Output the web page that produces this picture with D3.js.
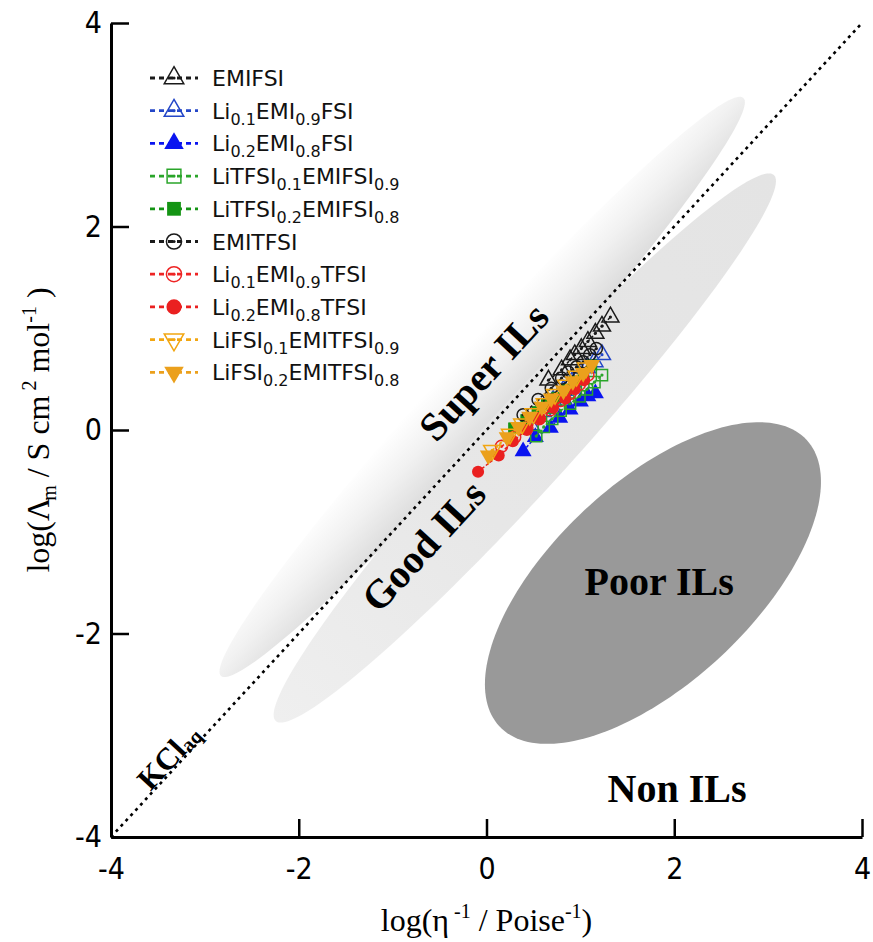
<!DOCTYPE html>
<html>
<head>
<meta charset="utf-8">
<script src="https://cdn.jsdelivr.net/npm/d3@7"></script>
<style>
body { margin: 0; background: #fff; }
</style>
</head>
<body>
<svg id="chart"></svg>
<script>
const width = 873;
const height = 942;

const pl = 111;
const pr = 11;
const pt = 23;
const pb = 105;

const xTicks = [-4, -2, 0, 2, 4];
const yTicks = [-4, -2, 0, 2, 4];

const seriesNames = [
    "EMIFSI",
    "Li_{0.1}EMI_{0.9}FSI",
    "Li_{0.2}EMI_{0.8}FSI",
    "LiTFSI_{0.1}EMIFSI_{0.9}",
    "LiTFSI_{0.2}EMIFSI_{0.8}",
    "EMITFSI",
    "Li_{0.1}EMI_{0.9}TFSI",
    "Li_{0.2}EMI_{0.8}TFSI",
    "LiFSI_{0.1}EMITFSI_{0.9}",
    "LiFSI_{0.2}EMITFSI_{0.8}",
];

// [log(1/eta), log(Lambda_m)]
const emiFsi = [[0.66, 0.49], [0.80, 0.59], [0.89, 0.69], [0.94, 0.74], [1.01, 0.80], [1.08, 0.87], [1.16, 0.95], [1.23, 1.02], [1.32, 1.11]];
const li1EmiFsi = [[0.47, 0.05], [0.60, 0.18], [0.71, 0.29], [0.82, 0.39], [0.91, 0.47], [0.99, 0.54], [1.07, 0.61], [1.15, 0.67], [1.23, 0.74]];
const li2EmiFsi = [[0.39, -0.21], [0.52, -0.07], [0.68, 0.02], [0.78, 0.12], [0.89, 0.20], [1.00, 0.28], [1.08, 0.33], [1.16, 0.36]];
const litfsi1EmiFsi = [[0.53, -0.06], [0.61, 0.03], [0.70, 0.11], [0.79, 0.19], [0.89, 0.26], [0.99, 0.33], [1.07, 0.40], [1.15, 0.47], [1.23, 0.54]];
const litfsi2EmiFsi = [[0.29, 0.02], [0.42, 0.10], [0.54, 0.18], [0.64, 0.25], [0.75, 0.32], [0.85, 0.40], [0.94, 0.48], [1.03, 0.56], [1.12, 0.64]];
const emiTfsi = [[0.39, 0.15], [0.55, 0.30], [0.69, 0.41], [0.80, 0.51], [0.87, 0.57], [0.96, 0.62], [1.03, 0.67], [1.10, 0.74], [1.17, 0.80]];
const li1EmiTfsi = [[0.16, -0.16], [0.30, -0.07], [0.43, 0.02], [0.56, 0.11], [0.68, 0.20], [0.79, 0.29], [0.89, 0.36], [0.99, 0.45], [1.08, 0.54]];
const li2EmiTfsi = [[-0.09, -0.41], [0.13, -0.25], [0.28, -0.11], [0.43, 0.00], [0.57, 0.11], [0.71, 0.22], [0.84, 0.31], [0.94, 0.40], [1.04, 0.49]];
const lifsi1EmiTfsi = [[0.06, -0.20], [0.25, -0.04], [0.38, 0.06], [0.50, 0.16], [0.62, 0.26], [0.73, 0.35], [0.85, 0.44], [0.96, 0.53], [1.06, 0.61]];
const lifsi2EmiTfsi = [[0.02, -0.25], [0.22, -0.07], [0.34, 0.03], [0.46, 0.13], [0.59, 0.23], [0.69, 0.31], [0.82, 0.39], [0.92, 0.48], [1.03, 0.56], [1.12, 0.64]];

const seriesData = [emiFsi, li1EmiFsi, li2EmiFsi, litfsi1EmiFsi, litfsi2EmiFsi,
    emiTfsi, li1EmiTfsi, li2EmiTfsi, lifsi1EmiTfsi, lifsi2EmiTfsi];

// shaded zones: centre + two half-axis vectors, in data units
const zoneSuper = {cx: -0.046, cy: 0.423, ux: 2.782, uy: 2.841, vx: -0.300, vy: 0.250};
const zoneGood = {cx: 0.408, cy: -0.177, ux: 2.653, uy: 2.683, vx: -0.346, vy: 0.292};
const zonePoor = {cx: 1.773, cy: -1.504, ux: 1.636, uy: 1.408, vx: -0.726, vy: 0.719};

const styles = [
    {color: "#1a1a1a", shape: "up", filled: false},
    {color: "#2447c8", shape: "up", filled: false},
    {color: "#0a14f0", shape: "up", filled: true},
    {color: "#2aa52a", shape: "square", filled: false},
    {color: "#149414", shape: "square", filled: true},
    {color: "#1a1a1a", shape: "circle", filled: false},
    {color: "#ee2424", shape: "circle", filled: false},
    {color: "#ea2020", shape: "circle", filled: true},
    {color: "#f2a611", shape: "down", filled: false},
    {color: "#eba01c", shape: "down", filled: true},
];

const svg = d3.select("#chart").attr("width", width).attr("height", height);

const x = d3.scaleLinear().domain([-4, 4]).range([pl, width - pr]);
const y = d3.scaleLinear().domain([-4, 4]).range([height - pb, pt]);

const lineAngle = -Math.atan2(y(-4) - y(4), x(4) - x(-4)) * 180 / Math.PI;

function zonePath(z) {
    const pts = d3.range(0, 360, 2).map(a => {
        const t = a * Math.PI / 180;
        return [x(z.cx + z.ux * Math.cos(t) + z.vx * Math.sin(t)),
                y(z.cy + z.uy * Math.cos(t) + z.vy * Math.sin(t))];
    });
    return d3.line().curve(d3.curveLinearClosed)(pts);
}

const defs = svg.append("defs");

const gSuper = defs.append("linearGradient")
    .attr("id", "gradSuper")
    .attr("gradientUnits", "userSpaceOnUse")
    .attr("x1", x(zoneSuper.cx + zoneSuper.vx)).attr("y1", y(zoneSuper.cy + zoneSuper.vy))
    .attr("x2", x(zoneSuper.cx - zoneSuper.vx)).attr("y2", y(zoneSuper.cy - zoneSuper.vy));
gSuper.append("stop").attr("offset", 0).attr("stop-color", "#ffffff");
gSuper.append("stop").attr("offset", 0.45).attr("stop-color", "#f1f1f1");
gSuper.append("stop").attr("offset", 1).attr("stop-color", "#dadada");

const gGood = defs.append("linearGradient")
    .attr("id", "gradGood")
    .attr("gradientUnits", "userSpaceOnUse")
    .attr("x1", x(zoneGood.cx - zoneGood.ux)).attr("y1", y(zoneGood.cy - zoneGood.uy))
    .attr("x2", x(zoneGood.cx + zoneGood.ux)).attr("y2", y(zoneGood.cy + zoneGood.uy));
gGood.append("stop").attr("offset", 0).attr("stop-color", "#efefef");
gGood.append("stop").attr("offset", 0.4).attr("stop-color", "#e7e7e7");
gGood.append("stop").attr("offset", 1).attr("stop-color", "#e4e4e4");

svg.append("path").attr("d", zonePath(zoneSuper)).attr("fill", "url(#gradSuper)");
svg.append("path").attr("d", zonePath(zoneGood)).attr("fill", "url(#gradGood)");
svg.append("path").attr("d", zonePath(zonePoor)).attr("fill", "#999999");

// KCl ideal line
svg.append("path")
    .attr("d", d3.line()([[x(-4), y(-4)], [x(4), y(4)]]))
    .attr("stroke", "#000")
    .attr("stroke-width", 2.6)
    .attr("stroke-dasharray", "3,4.2")
    .attr("fill", "none");

// zone labels
const serif = "'Liberation Serif', 'Times New Roman', Times, serif";

function zoneLabel(text, dx, dy, rot, size) {
    return svg.append("text")
        .attr("transform", `translate(${x(dx)},${y(dy)}) rotate(${rot})`)
        .attr("text-anchor", "middle")
        .attr("dominant-baseline", "central")
        .style("font-family", serif)
        .style("font-weight", "bold")
        .style("font-size", size + "px")
        .text(text);
}

zoneLabel("Super ILs", -0.03, 0.57, lineAngle, 40);
zoneLabel("Good ILs", -0.67, -1.14, lineAngle, 40);
zoneLabel("Poor ILs", 1.84, -1.49, 0, 40);
zoneLabel("Non ILs", 2.03, -3.52, 0, 40);

const kcl = svg.append("text")
    .attr("transform", `translate(${x(-3.39)},${y(-3.21)}) rotate(${lineAngle})`)
    .attr("text-anchor", "middle")
    .attr("dominant-baseline", "central")
    .style("font-family", serif)
    .style("font-weight", "bold")
    .style("font-size", "31px");
kcl.append("tspan").text("KCl");
kcl.append("tspan").attr("dy", 6).style("font-size", "20px").text("aq");

// markers
function markerPath(shape, big) {
    if (shape === "circle") return d3.symbol(d3.symbolCircle, big ? 180 : 115)();
    if (shape === "square") return d3.symbol(d3.symbolSquare, big ? 190 : 125)();
    return d3.symbol(d3.symbolTriangle, big ? 165 : 125)();
}

function drawMarker(g, st, px, py, big) {
    const rot = st.shape === "down" ? " rotate(180)" : "";
    g.append("path")
        .attr("d", markerPath(st.shape, big))
        .attr("transform", `translate(${px},${py})${rot}`)
        .attr("fill", st.filled ? st.color : "none")
        .attr("stroke", st.color)
        .attr("stroke-width", st.filled ? 0 : 1.5);
    if (!st.filled) {
        g.append("circle")
            .attr("cx", px).attr("cy", py).attr("r", 1.6)
            .attr("fill", st.color);
    }
}

const plot = svg.append("g");
seriesData.forEach((pts, i) => {
    const st = styles[i];
    const g = plot.append("g");
    g.append("path")
        .attr("d", d3.line().x(d => x(d[0])).y(d => y(d[1]))(pts))
        .attr("fill", "none")
        .attr("stroke", st.color)
        .attr("stroke-width", 1.5)
        .attr("stroke-dasharray", "3,2");
    pts.forEach(d => drawMarker(g, st, x(d[0]), y(d[1]), false));
});

// axes
const sans = "'Liberation Sans Narrow', 'DejaVu Sans Condensed', 'Arial Narrow', sans-serif";

const xAxis = svg.append("g")
    .attr("transform", `translate(0,${y(-4)})`)
    .call(d3.axisBottom(x).tickValues(xTicks).tickFormat(d => String(d))
        .tickSize(-18).tickSizeOuter(0).tickPadding(21));
const yAxis = svg.append("g")
    .attr("transform", `translate(${x(-4)},0)`)
    .call(d3.axisLeft(y).tickValues(yTicks).tickFormat(d => String(d))
        .tickSize(-18).tickSizeOuter(0).tickPadding(9));

[xAxis, yAxis].forEach(a => {
    a.select(".domain").attr("stroke", "#000").attr("stroke-width", 3);
    a.selectAll(".tick line").attr("stroke", "#000").attr("stroke-width", 2.5);
    a.selectAll(".tick text")
        .attr("fill", "#000")
        .style("font-family", sans)
        .style("font-stretch", "condensed")
        .style("font-size", "30px");
});

// axis titles
const xTitle = svg.append("text")
    .attr("x", x(0))
    .attr("y", 931)
    .attr("text-anchor", "middle")
    .style("font-family", serif)
    .style("font-size", "32px");
xTitle.append("tspan").text("log(η");
xTitle.append("tspan").attr("dy", -13).style("font-size", "20px").text(" -1");
xTitle.append("tspan").attr("dy", 13).text(" / Poise");
xTitle.append("tspan").attr("dy", -13).style("font-size", "20px").text("-1");
xTitle.append("tspan").attr("dy", 13).text(")");

const yTitle = svg.append("text")
    .attr("transform", `translate(49,${y(0)}) rotate(-90)`)
    .attr("text-anchor", "middle")
    .style("font-family", serif)
    .style("font-size", "32px");
yTitle.append("tspan").text("log(Λ");
yTitle.append("tspan").attr("dy", 7).attr("dx", -3).style("font-size", "20px").text("m");
yTitle.append("tspan").attr("dy", -7).text(" / S cm");
yTitle.append("tspan").attr("dy", -13).style("font-size", "20px").text(" 2");
yTitle.append("tspan").attr("dy", 13).text(" mol");
yTitle.append("tspan").attr("dy", -13).style("font-size", "20px").text("-1");
yTitle.append("tspan").attr("dy", 13).text(" )");

// legend
const legend = svg.append("g");
const rowGap = 32.7;
seriesNames.forEach((name, i) => {
    const st = styles[i];
    const cy = 78 + i * rowGap;
    const row = legend.append("g");
    row.append("path")
        .attr("d", d3.line()([[150, cy], [198, cy]]))
        .attr("stroke", st.color)
        .attr("stroke-width", 2.8)
        .attr("stroke-dasharray", "5,4");
    drawMarker(row, st, 174, cy, true);

    const t = row.append("text")
        .attr("x", 212)
        .attr("y", cy + 8)
        .style("font-family", "'DejaVu Sans', Verdana, sans-serif")
        .style("font-size", "22px")
        .attr("fill", "#111");
    name.split(/(_\{[^}]*\})/).filter(s => s.length).forEach(part => {
        if (part.startsWith("_{")) {
            t.append("tspan").attr("dy", 6).style("font-size", "16px").text(part.slice(2, -1));
        } else {
            const sp = t.append("tspan").text(part);
            if (t.selectAll("tspan").size() > 1) sp.attr("dy", -6);
        }
    });
});
</script>
</body>
</html>
